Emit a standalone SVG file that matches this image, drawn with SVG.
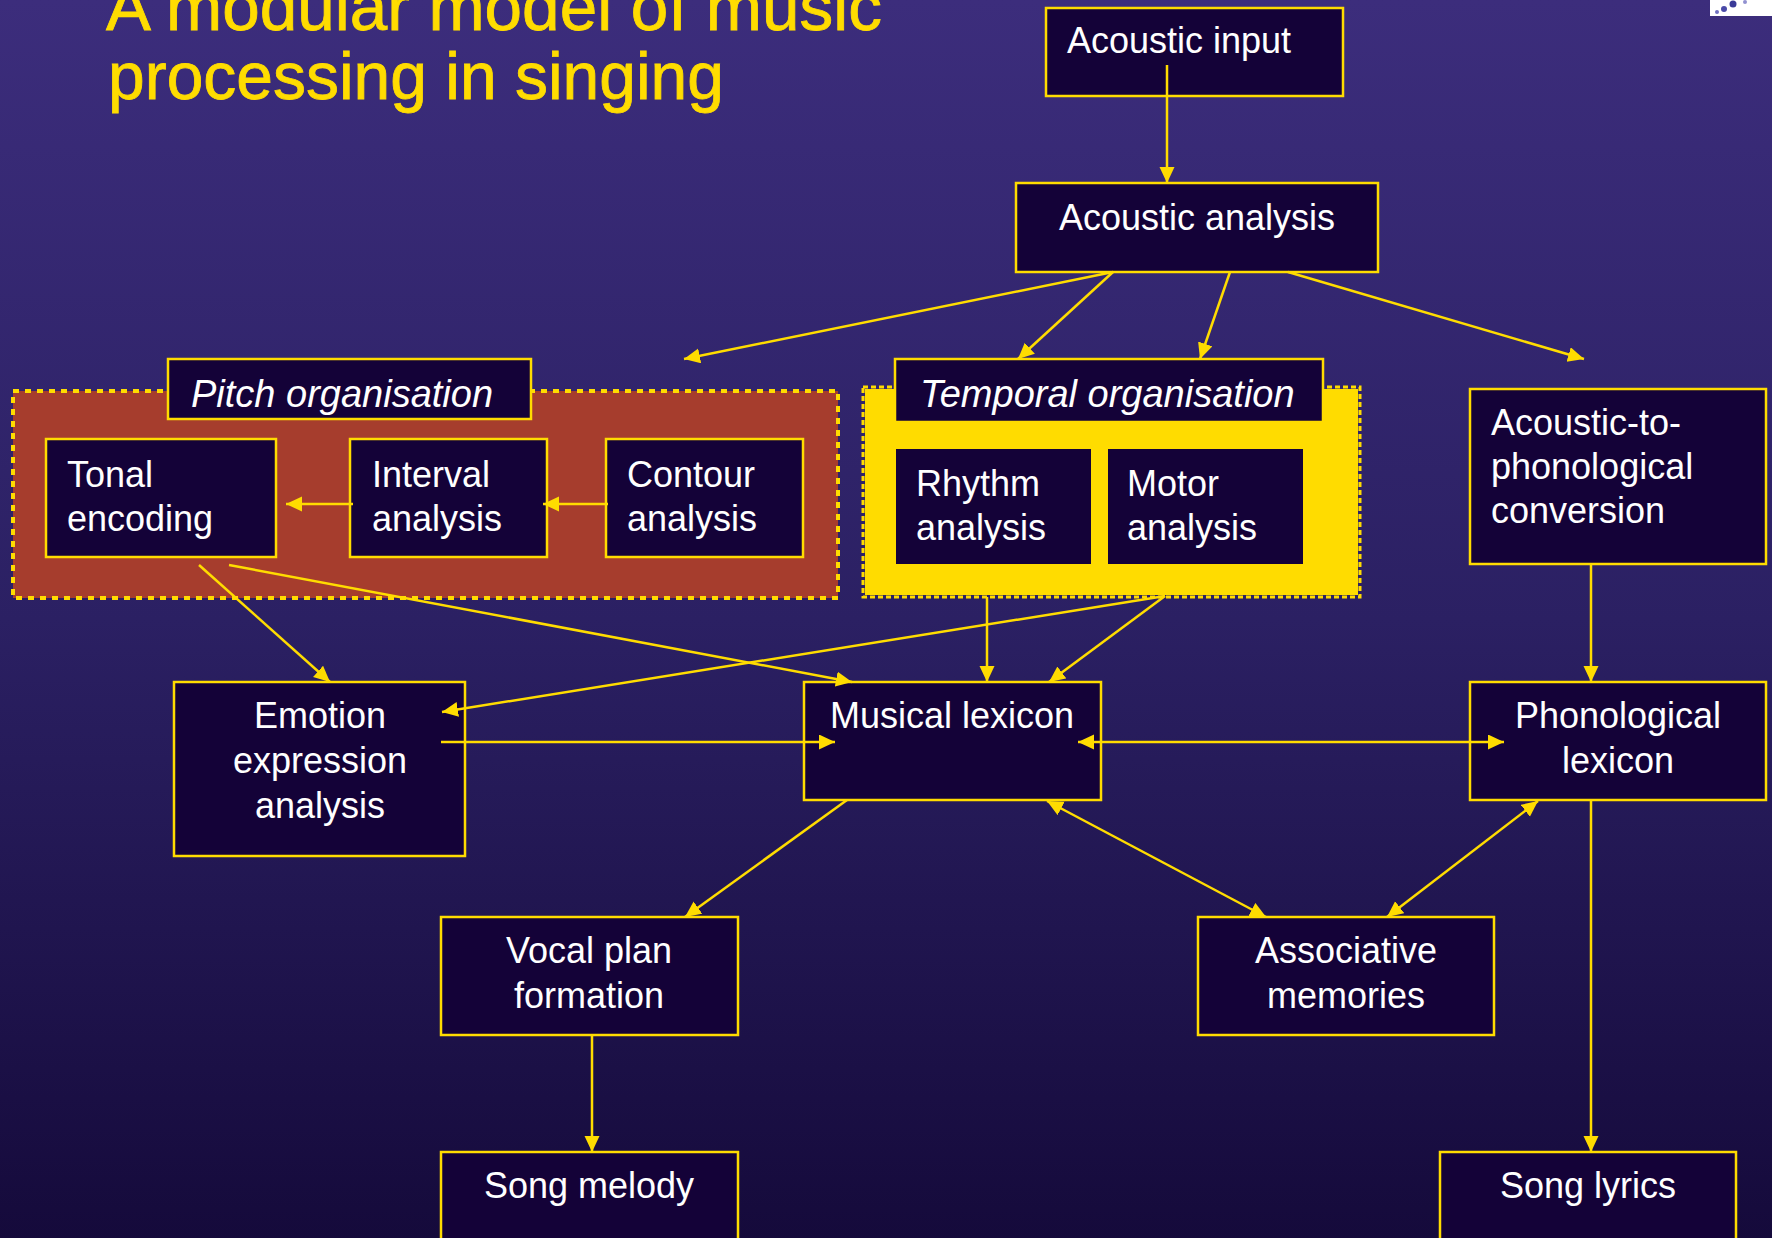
<svg xmlns="http://www.w3.org/2000/svg" width="1772" height="1238" viewBox="0 0 1772 1238">
<defs>
<linearGradient id="bg" x1="0" y1="0" x2="0" y2="1">
<stop offset="0" stop-color="#3c2d7c"/>
<stop offset="0.5" stop-color="#2b2063"/>
<stop offset="1" stop-color="#150a3b"/>
</linearGradient>
<marker id="ah" markerUnits="userSpaceOnUse" markerWidth="17" markerHeight="16" refX="16" refY="7.5" orient="auto-start-reverse" viewBox="0 0 17 16">
<path d="M0,0 L16,7.5 L0,15 z" fill="#ffdc00"/>
</marker>
<style>
.node{fill:#140238;stroke:#ffdc00;stroke-width:2.5}
.plain{fill:#140238}
.t{font-family:"Liberation Sans",Arial,sans-serif;font-size:36px;fill:#ffffff}
.it{font-family:"Liberation Sans",Arial,sans-serif;font-size:38px;font-style:italic;fill:#ffffff}
.c{text-anchor:middle}
.title{font-family:"Liberation Sans",Arial,sans-serif;font-size:66px;fill:#ffdc00;stroke:#ffdc00;stroke-width:0.8}
.e{fill:none;stroke:#ffdc00;stroke-width:2.5}
.a{marker-end:url(#ah)}
.b{marker-start:url(#ah);marker-end:url(#ah)}
</style>
</defs>
<rect x="0" y="0" width="1772" height="1238" fill="url(#bg)"/>
<g id="logo">
<rect x="1710" y="0" width="62" height="16" fill="#ffffff"/>
<circle cx="1724" cy="9" r="3" fill="#4a4aa8"/>
<circle cx="1733" cy="4" r="3.5" fill="#3a3a98"/>
<circle cx="1717" cy="12" r="2" fill="#7070c0"/>
<circle cx="1745" cy="2" r="2" fill="#9090d0"/>
</g>
<g id="title">
<text class="title" x="106" y="30" textLength="776" lengthAdjust="spacingAndGlyphs">A modular model of music</text>
<text class="title" x="108" y="99" textLength="616" lengthAdjust="spacingAndGlyphs">processing in singing</text>
</g>
<g id="pitch-organisation-region">
<rect x="13" y="391" width="825" height="207" fill="#a63d2d" stroke="#ffdc00" stroke-width="4" stroke-dasharray="6 6"/>
</g>
<g id="temporal-organisation-region">
<rect x="865" y="389" width="493" height="206" fill="#ffdc00"/>
<rect x="863" y="387" width="497" height="210" fill="none" stroke="#ffdc00" stroke-width="3" stroke-dasharray="5 3"/>
</g>
<g id="acoustic-input">
<rect class="node" x="1046" y="8" width="297" height="88"/>
<text class="t" x="1067" y="53">Acoustic input</text>
</g>
<g id="acoustic-analysis">
<rect class="node" x="1016" y="183" width="362" height="89"/>
<text class="t c" x="1197" y="230">Acoustic analysis</text>
</g>
<g id="pitch-organisation">
<rect class="node" x="168" y="359" width="363" height="60"/>
<text class="it" x="191" y="407">Pitch organisation</text>
</g>
<g id="temporal-organisation">
<rect class="node" x="895" y="359" width="428" height="63"/>
<text class="it" x="920" y="407">Temporal organisation</text>
</g>
<g id="tonal-encoding">
<rect class="node" x="46" y="439" width="230" height="118"/>
<text class="t" x="67" y="487">Tonal</text>
<text class="t" x="67" y="531">encoding</text>
</g>
<g id="interval-analysis">
<rect class="node" x="350" y="439" width="197" height="118"/>
<text class="t" x="372" y="487">Interval</text>
<text class="t" x="372" y="531">analysis</text>
</g>
<g id="contour-analysis">
<rect class="node" x="606" y="439" width="197" height="118"/>
<text class="t" x="627" y="487">Contour</text>
<text class="t" x="627" y="531">analysis</text>
</g>
<g id="rhythm-analysis">
<rect class="plain" x="896" y="449" width="195" height="115"/>
<text class="t" x="916" y="496">Rhythm</text>
<text class="t" x="916" y="540">analysis</text>
</g>
<g id="motor-analysis">
<rect class="plain" x="1108" y="449" width="195" height="115"/>
<text class="t" x="1127" y="496">Motor</text>
<text class="t" x="1127" y="540">analysis</text>
</g>
<g id="acoustic-to-phonological-conversion">
<rect class="node" x="1470" y="389" width="296" height="175"/>
<text class="t" x="1491" y="435">Acoustic-to-</text>
<text class="t" x="1491" y="479">phonological</text>
<text class="t" x="1491" y="523">conversion</text>
</g>
<g id="emotion-expression-analysis">
<rect class="node" x="174" y="682" width="291" height="174"/>
<text class="t c" x="320" y="728">Emotion</text>
<text class="t c" x="320" y="773">expression</text>
<text class="t c" x="320" y="818">analysis</text>
</g>
<g id="musical-lexicon">
<rect class="node" x="804" y="682" width="297" height="118"/>
<text class="t c" x="952" y="728">Musical lexicon</text>
</g>
<g id="phonological-lexicon">
<rect class="node" x="1470" y="682" width="296" height="118"/>
<text class="t c" x="1618" y="728">Phonological</text>
<text class="t c" x="1618" y="773">lexicon</text>
</g>
<g id="vocal-plan-formation">
<rect class="node" x="441" y="917" width="297" height="118"/>
<text class="t c" x="589" y="963">Vocal plan</text>
<text class="t c" x="589" y="1008">formation</text>
</g>
<g id="associative-memories">
<rect class="node" x="1198" y="917" width="296" height="118"/>
<text class="t c" x="1346" y="963">Associative</text>
<text class="t c" x="1346" y="1008">memories</text>
</g>
<g id="song-melody">
<rect class="node" x="441" y="1152" width="297" height="100"/>
<text class="t c" x="589" y="1198">Song melody</text>
</g>
<g id="song-lyrics">
<rect class="node" x="1440" y="1152" width="296" height="100"/>
<text class="t c" x="1588" y="1198">Song lyrics</text>
</g>
<g id="connectors">
<line class="e a" x1="1167" y1="65" x2="1167" y2="183"/>
<line class="e a" x1="1113" y1="272" x2="684" y2="359"/>
<line class="e a" x1="1113" y1="272" x2="1018" y2="359"/>
<line class="e a" x1="1230" y1="272" x2="1200" y2="359"/>
<line class="e a" x1="1288" y1="272" x2="1584" y2="359"/>
<line class="e a" x1="608" y1="504" x2="543" y2="504"/>
<line class="e a" x1="353" y1="504" x2="286" y2="504"/>
<line class="e a" x1="199" y1="565" x2="330" y2="682"/>
<line class="e a" x1="229" y1="565" x2="852" y2="682"/>
<line class="e a" x1="1165" y1="596" x2="442" y2="712"/>
<line class="e a" x1="987" y1="597" x2="987" y2="682"/>
<line class="e a" x1="1165" y1="596" x2="1049" y2="682"/>
<line class="e a" x1="441" y1="742" x2="835" y2="742"/>
<line class="e b" x1="1078" y1="742" x2="1504" y2="742"/>
<line class="e a" x1="1591" y1="564" x2="1591" y2="682"/>
<line class="e a" x1="847" y1="800" x2="685" y2="917"/>
<line class="e b" x1="1047" y1="801" x2="1266" y2="917"/>
<line class="e b" x1="1538" y1="801" x2="1387" y2="917"/>
<line class="e a" x1="592" y1="1035" x2="592" y2="1152"/>
<line class="e a" x1="1591" y1="800" x2="1591" y2="1152"/>
</g>
</svg>
